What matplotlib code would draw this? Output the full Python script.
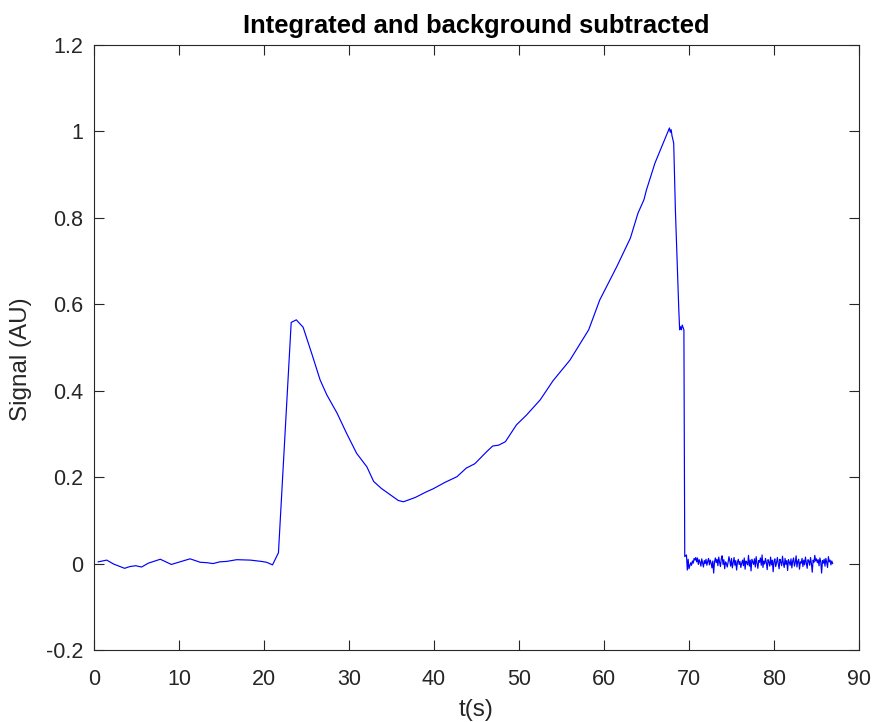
import numpy as np
import matplotlib
matplotlib.use("Agg")
import matplotlib.pyplot as plt

plt.rcParams['font.family'] = ['Liberation Sans', 'DejaVu Sans']

# Integrated, background-subtracted signal (time in seconds)
t_main = [0.5, 1.5, 2.3, 3.6, 4.2, 4.9, 5.6, 6.4, 7.8, 9.1, 10.1, 11.3, 12.5, 13.3,
          14.0, 14.8, 15.6, 16.8, 18.4, 19.7, 20.3, 21.0, 21.7, 23.2, 23.8, 24.6,
          25.6, 26.6, 27.4, 28.6, 29.7, 30.9, 32.1, 32.9, 33.8, 35.8, 36.4, 37.8,
          39.1, 39.9, 41.3, 42.7, 43.8, 44.8, 46.2, 46.9, 47.6, 48.4, 49.7, 50.9,
          52.5, 54.0, 56.0, 58.2, 59.5, 61.5, 63.1, 64.0, 64.7, 65.0, 66.0, 66.8,
          67.7, 67.8, 67.9, 68.0, 68.2, 68.4, 68.8, 68.9, 69.0, 69.1, 69.2, 69.4,
          69.5, 69.7]
v_main = [0.004, 0.008, -0.001, -0.011, -0.007, -0.005, -0.008, 0.001, 0.010, -0.002,
          0.004, 0.011, 0.003, 0.002, 0.000, 0.004, 0.005, 0.009, 0.008, 0.005,
          0.003, -0.003, 0.025, 0.558, 0.564, 0.547, 0.487, 0.425, 0.390, 0.348,
          0.302, 0.255, 0.224, 0.190, 0.174, 0.146, 0.143, 0.153, 0.166, 0.173,
          0.188, 0.201, 0.221, 0.231, 0.259, 0.272, 0.274, 0.282, 0.321, 0.344,
          0.379, 0.423, 0.471, 0.541, 0.610, 0.687, 0.753, 0.811, 0.842, 0.865,
          0.927, 0.965, 1.008, 0.998, 1.004, 0.990, 0.973, 0.818, 0.587, 0.541,
          0.548, 0.541, 0.552, 0.541, 0.016, 0.020]

# Residual noise after the signal drops out (sampled every 0.1 s from 69.8 s)
t_noise_start = 69.8
t_noise_step = 0.1
v_noise = [
    -0.015, 0.010, -0.012, -0.005, 0.002, -0.004, 0.006, 0.001, 0.012, 0.008,
    0.014, 0.004, 0.013, -0.002, 0.009, 0.003, -0.006, 0.011, 0.002, -0.008,
    0.007, 0.000, 0.010, -0.004, 0.005, 0.012, -0.003, 0.008, 0.001, -0.010,
    0.006, -0.022, 0.004, 0.013, 0.002, 0.010, -0.005, 0.015, 0.003, -0.007,
    0.011, 0.018, -0.002, 0.009, -0.012, 0.004, 0.000, -0.008, 0.003, 0.016,
    0.006, -0.006, 0.012, -0.010, 0.002, 0.014, -0.004, 0.007, -0.015, 0.003,
    0.010, -0.002, 0.005, -0.009, 0.001, 0.008, -0.005, 0.013, -0.013, 0.006,
    0.002, -0.003, 0.019, -0.006, 0.008, -0.017, 0.010, 0.004, -0.002, 0.011,
    -0.008, 0.016, 0.001, -0.011, 0.007, 0.003, 0.013, -0.004, 0.020, -0.009,
    0.006, -0.001, 0.012, 0.002, -0.014, 0.009, 0.004, -0.006, 0.015, -0.003,
    0.008, -0.019, 0.005, 0.011, -0.007, 0.002, 0.014, 0.000, -0.012, 0.010,
    0.004, -0.005, 0.017, 0.001, -0.009, 0.012, -0.002, 0.007, -0.016, 0.009,
    0.003, -0.004, 0.011, -0.010, 0.006, 0.013, -0.006, 0.002, 0.018, -0.008,
    0.005, 0.010, -0.013, 0.004, 0.001, 0.012, -0.007, 0.008, -0.003, 0.015,
    0.002, -0.011, 0.009, 0.006, -0.004, 0.014, 0.000, -0.020, 0.008, 0.003,
    0.019, 0.006, 0.011, 0.002, 0.009, -0.005, 0.013, 0.004, -0.022, 0.007,
    0.001, 0.010, -0.006, 0.012, 0.003, -0.009, 0.016, 0.004, 0.008, -0.003,
    0.006, 0.000,
]

t_noise = t_noise_start + t_noise_step * np.arange(len(v_noise))
t_all = np.concatenate([t_main, t_noise])
v_all = np.concatenate([v_main, v_noise])

x_ticks = [0, 10, 20, 30, 40, 50, 60, 70, 80, 90]
y_ticks = [-0.2, 0, 0.2, 0.4, 0.6, 0.8, 1.0, 1.2]
y_tick_labels = ['-0.2', '0', '0.2', '0.4', '0.6', '0.8', '1', '1.2']

fig = plt.figure(figsize=(8.74, 7.22), dpi=100)
ax = fig.add_axes([94 / 874, 1 - 650 / 722, (859 - 94) / 874, (650 - 45) / 722])

ax.plot(t_all, v_all, color=(0, 0, 1), linewidth=0.85)

ax.set_xlim(0, 90)
ax.set_ylim(-0.2, 1.2)
ax.set_xticks(x_ticks)
ax.set_yticks(y_ticks)
ax.set_yticklabels(y_tick_labels)

axis_color = '#262626'
for spine in ax.spines.values():
    spine.set_color(axis_color)
    spine.set_linewidth(0.8)
ax.tick_params(direction='in', length=7, width=0.8, colors=axis_color,
               labelsize=15.5, top=True, right=True)
ax.tick_params(axis='x', pad=13.5)
ax.tick_params(axis='y', pad=7.5)

ax.set_xlabel('t(s)', fontsize=17.5, color=axis_color)
ax.set_ylabel('Signal (AU)', fontsize=17.5, color=axis_color)
ax.xaxis.set_label_coords(0.5, -0.099)
ax.xaxis.label.set_verticalalignment('center')
ax.yaxis.set_label_coords(-0.095, 0.48)
ax.yaxis.label.set_verticalalignment('center')
ax.set_title('Integrated and background subtracted', fontsize=18.4,
             fontweight='bold', color='black', pad=8.5)

fig.savefig('out.png', dpi=100)
